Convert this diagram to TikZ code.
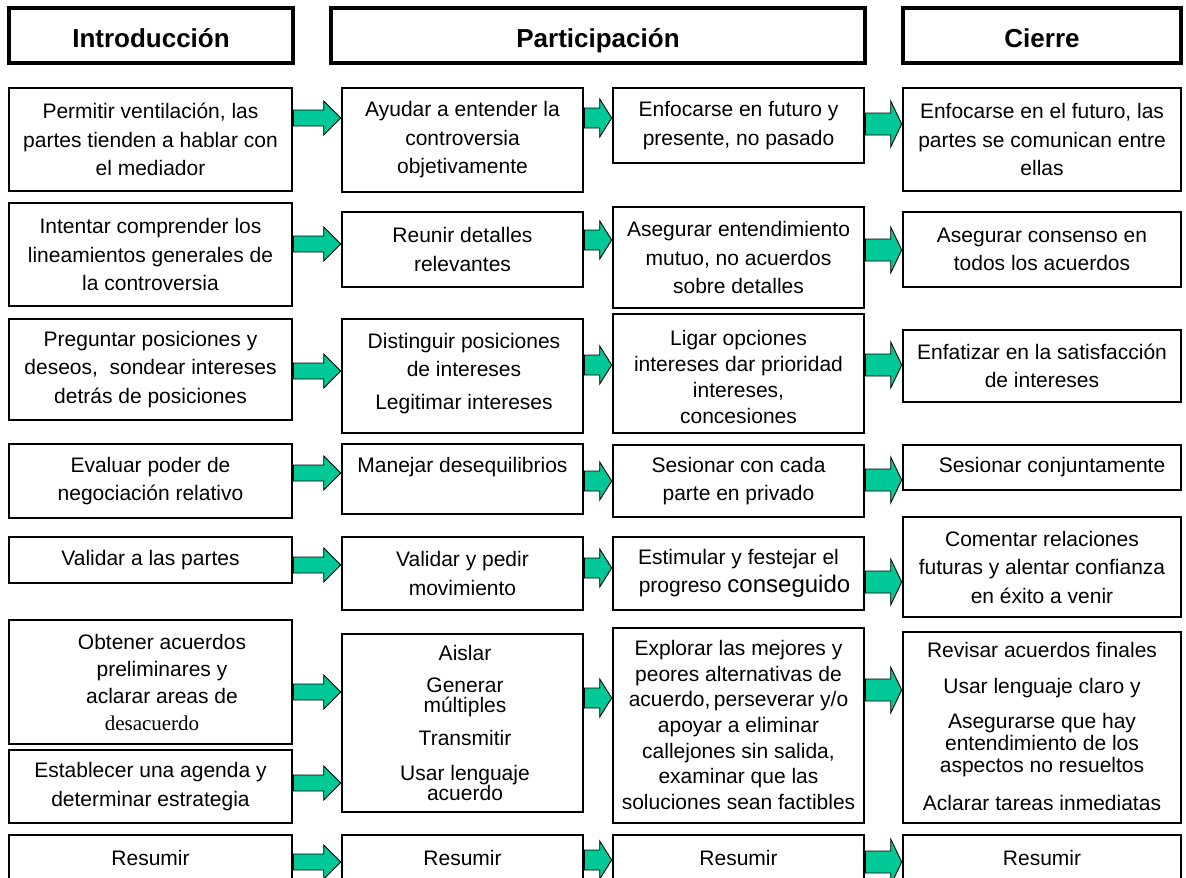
\documentclass[tikz,border=0pt]{standalone}
\usepackage{fontspec}
\setmainfont{Liberation Sans}
\newfontfamily\serifface{Liberation Serif}
\usetikzlibrary{calc}
\definecolor{verde}{RGB}{0,201,151}

\tikzset{
  encabezado/.style={draw=black, line width=4pt, inner sep=0pt, text height=24pt, text depth=0pt,
    font=\fontsize{26}{30}\selectfont\bfseries},
  caja/.style={draw=black, line width=2.6pt, inner sep=0pt, align=center, font=\fontsize{21}{28.5}\selectfont},
  texto/.style={inner sep=0pt, align=center, font=\fontsize{21}{28.5}\selectfont},
  flecha/.style={draw=black, line width=0.9pt, fill=verde, line join=miter},
}

% box from its left, right, top and bottom edges (pixel units)
\newcommand\cajaxy[6]{%
  \node[caja, minimum width={(#3-#2)*1pt}, minimum height={(#5-#4)*1pt}]
    (#1) at ({(#2+#3)/2},{(#4+#5)/2}) {#6};}

% block arrow: from node, to node, height, half shaft, half head, head length
\newcommand\flechaxy[6]{%
  \coordinate (f-y) at (0,#3);
  \coordinate (f-s) at (#1.east |- f-y);
  \coordinate (f-t) at (#2.west |- f-y);
  \draw[flecha] ($(f-s)+(0,#4)$) -- ($(f-t)+(-#6,#4)$) -- ($(f-t)+(-#6,#5)$) -- (f-t)
     -- ($(f-t)+(-#6,-#5)$) -- ($(f-t)+(-#6,-#4)$) -- ($(f-s)+(0,-#4)$) -- cycle;}

\begin{document}
\begin{tikzpicture}[x=1pt,y=-1pt]
\fill[white] (0,0) rectangle (1186,878);
\useasboundingbox (0,0) rectangle (1186,878);

% phase headers
\node[encabezado, minimum width=284pt, minimum height=55pt] (hIntro) at (151,35.5) {Introducción};
\node[encabezado, minimum width=534pt, minimum height=55pt] (hPart) at (598,35.5) {Participación};
\node[encabezado, minimum width=278pt, minimum height=55pt] (hCierre) at (1042,35.5) {Cierre};

% row 1
\cajaxy{a1}{9}{292}{88}{191}{Permitir ventilación, las\\partes tienden a hablar con\\el mediador}
\cajaxy{b1}{342}{583}{88}{192}{Ayudar a entender la\\controversia\\objetivamente}
\cajaxy{c1}{613}{864}{88}{163}{Enfocarse en futuro y\\presente, no pasado}
\cajaxy{d1}{903}{1181}{88}{191}{Enfocarse en el futuro, las\\partes se comunican entre\\ellas}

% row 2
\cajaxy{a2}{9}{292}{203}{306}{Intentar comprender los\\lineamientos generales de\\la controversia}
\cajaxy{b2}{342}{583}{212}{287}{Reunir detalles\\relevantes}
\cajaxy{c2}{613}{864}{207}{308}{Asegurar entendimiento\\mutuo, no acuerdos\\sobre detalles}
\cajaxy{d2}{903}{1181}{212}{287}{Asegurar consenso en\\todos los acuerdos}

% row 3
\cajaxy{a3}{9}{292}{319}{420}{Preguntar posiciones y\\deseos,\ \ sondear intereses\\detrás de posiciones}
\cajaxy{b3}{342}{583}{319}{433}{}
\node[texto] (b3t1) at (464,355) {Distinguir posiciones\\de intereses};
\node[texto] (b3t2) at (464,404) {Legitimar intereses};
\cajaxy{c3}{613}{864}{314}{433}{}
\node[texto, font=\fontsize{21}{26}\selectfont] (c3t) at (738.5,377) {Ligar opciones\\intereses dar prioridad\\intereses,\\concesiones};
\cajaxy{d3}{903}{1181}{330}{402}{Enfatizar en la satisfacción\\de intereses}

% row 4
\cajaxy{a4}{9}{292}{444}{518}{Evaluar poder de\\negociación relativo}
\cajaxy{b4}{342}{583}{444}{514}{}
\node[texto] (b4t) at (462.5,467) {Manejar desequilibrios};
\cajaxy{c4}{613}{864}{445}{517}{Sesionar con cada\\parte en privado}
\cajaxy{d4}{903}{1181}{445}{490}{\hspace*{20pt}Sesionar conjuntamente}

% row 5
\cajaxy{a5}{9}{292}{537}{583}{Validar a las partes}
\cajaxy{b5}{342}{583}{537}{610}{Validar y pedir\\movimiento}
\cajaxy{c5}{613}{864}{537}{610}{Estimular y festejar el\\\hspace*{12pt}progreso {\fontsize{24}{28.5}\selectfont conseguido}}
\cajaxy{d5}{903}{1181}{517}{617}{Comentar relaciones\\futuras y alentar confianza\\en éxito a venir}

% row 6
\cajaxy{a6}{9}{292}{620}{744}{}
\node[texto, font=\fontsize{21}{27}\selectfont] (a6t) at (162,682) {Obtener acuerdos\\preliminares y\\aclarar areas de\\\hspace*{-20pt}{\serifface desacuerdo}};
\cajaxy{a7}{9}{292}{750}{823}{Establecer una agenda y\\determinar estrategia}
\cajaxy{b6}{342}{583}{634}{812}{}
\node[texto] (b6t1) at (465,653) {Aislar};
\node[texto, font=\fontsize{21}{20}\selectfont] (b6t2) at (465,697) {Generar\\múltiples};
\node[texto] (b6t3) at (465,738) {Transmitir};
\node[texto, font=\fontsize{21}{20}\selectfont] (b6t4) at (465,783) {Usar lenguaje\\acuerdo};
\cajaxy{c6}{613}{864}{628}{823}{}
\node[texto, font=\fontsize{21}{25.7}\selectfont] (c6t) at (738.5,725) {Explorar las mejores y\\peores alternativas de\\acuerdo,\,perseverar y/o\\apoyar a eliminar\\callejones sin salida,\\examinar que las\\soluciones sean factibles};
\cajaxy{d6}{903}{1181}{632}{823}{}
\node[texto] (d6t1) at (1042,650) {Revisar acuerdos finales};
\node[texto] (d6t2) at (1042,688) {Usar lenguaje claro y};
\node[texto, font=\fontsize{21}{22}\selectfont] (d6t3) at (1042,745) {Asegurarse que hay\\entendimiento de los\\aspectos no resueltos};
\node[texto] (d6t4) at (1042,803) {Aclarar tareas inmediatas};

% row 7
\cajaxy{a8}{9}{292}{835}{881}{Resumir}
\cajaxy{b8}{342}{583}{835}{881}{Resumir}
\cajaxy{c8}{613}{864}{835}{881}{Resumir}
\cajaxy{d8}{903}{1181}{835}{881}{Resumir}

% arrows between the phases
\flechaxy{a1}{b1}{118}{8}{17}{17}
\flechaxy{b1}{c1}{118}{10}{19}{12}
\flechaxy{c1}{d1}{124}{11}{23}{11}
\flechaxy{a2}{b2}{244}{8}{17}{17}
\flechaxy{b2}{c2}{240}{10}{19}{12}
\flechaxy{c2}{d2}{250}{11}{23}{11}
\flechaxy{a3}{b3}{371}{8}{17}{17}
\flechaxy{b3}{c3}{365}{10}{19}{12}
\flechaxy{c3}{d3}{365}{11}{23}{11}
\flechaxy{a4}{b4}{473}{8}{17}{17}
\flechaxy{b4}{c4}{481}{10}{19}{12}
\flechaxy{c4}{d4}{480}{11}{23}{11}
\flechaxy{a5}{b5}{565}{8}{17}{17}
\flechaxy{b5}{c5}{568}{10}{19}{12}
\flechaxy{c5}{d5}{582}{11}{23}{11}
\flechaxy{a6}{b6}{692}{8}{17}{17}
\flechaxy{a7}{b6}{783}{8}{17}{17}
\flechaxy{b6}{c6}{698}{10}{19}{12}
\flechaxy{c6}{d6}{690}{11}{23}{11}
\flechaxy{a8}{b8}{862}{8}{17}{17}
\flechaxy{b8}{c8}{860}{10}{19}{12}
\flechaxy{c8}{d8}{862}{11}{23}{11}
\end{tikzpicture}
\end{document}
